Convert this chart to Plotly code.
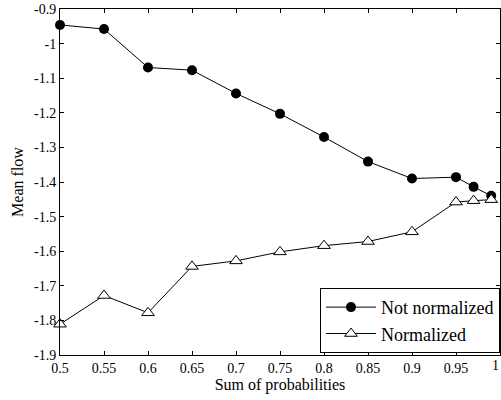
import plotly.graph_objects as go

x_vals = [0.5, 0.55, 0.6, 0.65, 0.7, 0.75, 0.8, 0.85, 0.9, 0.95, 0.97, 0.99]
not_normalized = [-0.946, -0.958, -1.069, -1.077, -1.144, -1.203, -1.270, -1.341, -1.390, -1.386, -1.414, -1.440]
normalized = [-1.811, -1.728, -1.778, -1.644, -1.628, -1.602, -1.584, -1.572, -1.544, -1.458, -1.454, -1.451]

x_ticks = [0.5, 0.55, 0.6, 0.65, 0.7, 0.75, 0.8, 0.85, 0.9, 0.95, 1.0]
x_ticklabels = ["0.5", "0.55", "0.6", "0.65", "0.7", "0.75", "0.8", "0.85", "0.9", "0.95", "1"]
y_ticks = [-0.9, -1.0, -1.1, -1.2, -1.3, -1.4, -1.5, -1.6, -1.7, -1.8, -1.9]
y_ticklabels = ["-0.9", "-1", "-1.1", "-1.2", "-1.3", "-1.4", "-1.5", "-1.6", "-1.7", "-1.8", "-1.9"]

font_family = "Liberation Serif, Times New Roman, serif"
tick_size = 14

fig = go.Figure()
fig.add_trace(go.Scatter(
    x=x_vals, y=not_normalized, name="Not normalized", mode="lines+markers",
    line=dict(color="black", width=1),
    marker=dict(symbol="circle", size=10, color="black"),
    cliponaxis=False,
))
fig.add_trace(go.Scatter(
    x=x_vals, y=normalized, name="Normalized", mode="lines+markers",
    line=dict(color="black", width=1),
    marker=dict(symbol="triangle-up", size=11, color="white", line=dict(color="black", width=1)),
    cliponaxis=False,
))

axis_common = dict(
    showgrid=False, zeroline=False, showline=True, linecolor="black", linewidth=1,
    mirror="ticks", ticks="inside", ticklen=4, tickcolor="black",
    tickfont=dict(family=font_family, size=tick_size, color="black"),
    automargin=False,
)

fig.update_layout(
    width=501, height=400,
    margin=dict(l=60, r=1, t=9, b=45),
    paper_bgcolor="white", plot_bgcolor="white",
    font=dict(family=font_family, color="black"),
    xaxis=dict(range=[0.5, 1.0], tickvals=x_ticks[:-1], ticktext=x_ticklabels[:-1],
               title=dict(text="Sum of probabilities", font=dict(size=16), standoff=2),
               **axis_common),
    yaxis=dict(range=[-1.9, -0.9], tickvals=y_ticks, ticktext=y_ticklabels,
               title=dict(text="Mean flow", font=dict(size=16), standoff=6),
               **axis_common),
    legend=dict(x=1.0, y=0.006, xanchor="right", yanchor="bottom",
                bgcolor="white", bordercolor="black", borderwidth=1,
                font=dict(family=font_family, size=18, color="black"),
                tracegroupgap=0, itemwidth=50),
    showlegend=True,
)

# last x tick label sits at the right edge of the figure
fig.add_annotation(x=x_ticks[-1], y=0, xref="x", yref="paper", yanchor="top",
                   xanchor="right", yshift=-1, xshift=1, text=x_ticklabels[-1], showarrow=False,
                   font=dict(family=font_family, size=tick_size, color="black"))

fig.write_html("out.html")
